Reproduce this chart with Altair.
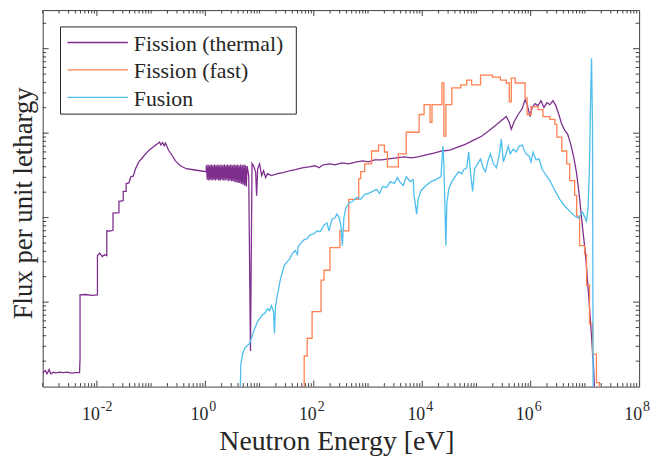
import altair as alt
import pandas as pd

# ---------------- data (log10 of energy [eV], log10 of flux [arb.]) ----------------
thermal_log_e = [
    -3.0, -2.95, -2.92, -2.88, -2.85, -2.8, -2.76, -2.7, -2.62, -2.55, -2.47, -2.40, -2.32,
    -2.311, -2.311, -2.2, -2.1, -1.99,
    -1.99, -1.95, -1.90, -1.86, -1.818,
    -1.818, -1.76, -1.703,
    -1.703, -1.593,
    -1.593, -1.515,
    -1.515, -1.46,
    -1.46, -1.41,
    -1.374, -1.33, -1.288, -1.228, -1.17, -1.105, -1.05, -1.009, -0.917, -0.87, -0.844, -0.82,
    -0.789, -0.76, -0.735, -0.70, -0.68, -0.607, -0.552, -0.46, -0.351, -0.223, 0.015,
    0.02, 0.035, 0.05, 0.065, 0.08, 0.095, 0.11, 0.125, 0.14, 0.155, 0.17, 0.185, 0.20, 0.215,
    0.23, 0.245, 0.26, 0.275, 0.29, 0.305, 0.32, 0.335, 0.35, 0.365, 0.38, 0.395, 0.41, 0.425,
    0.44, 0.455, 0.47, 0.485, 0.50, 0.515, 0.53, 0.545, 0.56, 0.575, 0.59, 0.605, 0.62, 0.635,
    0.65, 0.665, 0.68, 0.695, 0.71, 0.725, 0.74, 0.755, 0.77,
    0.80, 0.832, 0.861, 0.892, 0.928, 0.946, 0.965, 1.001, 1.038, 1.074, 1.111, 1.147, 1.22,
    1.33, 1.44, 1.549, 1.659, 1.787, 1.915, 2.024, 2.097, 2.17, 2.298, 2.39, 2.518, 2.645,
    2.791, 2.901, 3.011, 3.121, 3.249, 3.376, 3.523, 3.669, 3.797, 3.925, 4.071, 4.217, 4.363,
    4.509, 4.655, 4.802, 4.948, 5.094, 5.24, 5.35, 5.459, 5.551, 5.606, 5.642, 5.697, 5.77,
    5.843, 5.898, 5.935, 5.989, 6.026, 6.081, 6.136, 6.19, 6.245, 6.3, 6.355, 6.41, 6.464,
    6.519, 6.574, 6.629, 6.683, 6.738, 6.793, 6.848, 6.902, 6.957, 7.012, 7.067, 7.122, 7.158, 7.195,
]
thermal_log_flux = [
    0.163, 0.19, 0.15, 0.2, 0.15, 0.17, 0.16, 0.17, 0.165, 0.17, 0.16, 0.165, 0.165,
    0.33, 1.085, 1.09, 1.08, 1.085,
    1.55, 1.58, 1.54, 1.56, 1.55,
    1.844, 1.84, 1.85,
    2.054, 2.06,
    2.194, 2.20,
    2.31, 2.31,
    2.404, 2.41,
    2.485, 2.49, 2.579, 2.66, 2.70, 2.754, 2.79, 2.812, 2.859, 2.88, 2.894, 2.86,
    2.89, 2.85, 2.882, 2.83, 2.80, 2.73, 2.672, 2.614, 2.579, 2.567, 2.544,
    2.62, 2.45, 2.63, 2.44, 2.62, 2.45, 2.63, 2.44, 2.62, 2.45, 2.63, 2.44, 2.62, 2.45,
    2.63, 2.44, 2.62, 2.44, 2.63, 2.45, 2.62, 2.44, 2.63, 2.44, 2.62, 2.45, 2.63, 2.43,
    2.62, 2.44, 2.63, 2.43, 2.62, 2.43, 2.63, 2.42, 2.62, 2.42, 2.63, 2.41, 2.62, 2.41,
    2.63, 2.40, 2.62, 2.39, 2.63, 2.38, 2.62, 2.37, 2.61,
    2.50, 0.42, 2.64, 2.61, 2.54, 2.26, 2.58, 2.637, 2.497, 2.555, 2.474, 2.52, 2.497,
    2.52, 2.532, 2.555, 2.567, 2.59, 2.602, 2.614, 2.59, 2.625, 2.637, 2.625, 2.649, 2.637,
    2.66, 2.672, 2.66, 2.684, 2.684, 2.695, 2.707, 2.719, 2.707, 2.719, 2.742, 2.765, 2.789,
    2.80, 2.835, 2.87, 2.917, 2.964, 3.034, 3.092, 3.151, 3.197, 3.127, 3.046, 3.139, 3.221,
    3.291, 3.396, 3.337, 3.197, 3.302, 3.349, 3.326, 3.384, 3.302, 3.361, 3.337, 3.384, 3.326,
    3.221, 3.104, 3.034, 2.987, 2.87, 2.719, 2.52, 2.229, 1.879, 1.564, 1.097, 0.595, 0.245, -0.3,
]

fast_log_e = [
    1.823, 1.823, 1.878, 1.969, 2.134, 2.189, 2.298, 2.481, 2.645, 2.828, 2.865, 2.938, 3.066,
    3.194, 3.303, 3.358, 3.559, 3.705, 3.943, 4.034, 4.144, 4.18, 4.363, 4.399, 4.436, 4.546,
    4.71, 4.82, 4.911, 5.075, 5.295, 5.441, 5.55, 5.605, 5.642, 5.715, 5.897, 5.934, 6.007,
    6.135, 6.226, 6.354, 6.446, 6.482, 6.573, 6.665, 6.72, 6.811, 6.848, 6.902, 6.994, 7.03,
    7.085, 7.14, 7.213, 7.268,
]
fast_log_flux = [
    -0.3, 0.362, 0.572, 0.887, 1.26, 1.377, 1.645, 1.844, 2.217, 2.462, 2.544, 2.637, 2.789,
    2.859, 2.777, 2.602, 2.754, 3.011, 3.221, 3.337, 3.127, 3.337, 3.594, 2.964, 3.337, 3.536,
    3.571, 3.629, 3.571, 3.687, 3.664, 3.629, 3.594, 3.372, 3.652, 3.594, 3.419, 3.221, 3.314,
    3.279, 3.197, 3.162, 3.104, 2.952, 2.789, 2.637, 2.439, 2.264, 2.019, 1.669, 1.564, 1.202,
    0.747, 0.385, 0.047, -0.3,
]

fusion_log_e = [
    0.636, 0.654, 0.691, 0.727, 0.782, 0.818, 0.873, 0.91, 0.965, 1.001, 1.056, 1.092, 1.147,
    1.184, 1.22, 1.257, 1.275, 1.293, 1.33, 1.385, 1.421, 1.458, 1.513, 1.549, 1.604, 1.659,
    1.695, 1.714, 1.768, 1.823, 1.878, 1.933, 2.006, 2.061, 2.116, 2.189, 2.243, 2.28, 2.335,
    2.39, 2.426, 2.463, 2.499, 2.527, 2.554, 2.591, 2.645, 2.719, 2.792, 2.865, 2.938, 3.011,
    3.084, 3.157, 3.212, 3.267, 3.34, 3.413, 3.486, 3.541, 3.596, 3.65, 3.705, 3.778, 3.833,
    3.851, 3.87, 3.897, 3.924, 3.979, 4.07, 4.162, 4.253, 4.345, 4.381, 4.399, 4.436, 4.454,
    4.491, 4.546, 4.619, 4.673, 4.728, 4.765, 4.82, 4.856, 4.893, 4.929, 4.966, 5.021, 5.075,
    5.13, 5.167, 5.222, 5.258, 5.313, 5.368, 5.423, 5.459, 5.496, 5.532, 5.587, 5.623, 5.678,
    5.733, 5.788, 5.843, 5.879, 5.916, 5.971, 6.007, 6.044, 6.099, 6.153, 6.208, 6.263, 6.354,
    6.446, 6.537, 6.629, 6.72, 6.811, 6.884, 6.957, 7.03, 7.058, 7.085, 7.103, 7.122, 7.14, 7.153,
]
fusion_log_flux = [
    -0.3, 0.268, 0.397, 0.455, 0.49, 0.513, 0.618, 0.688, 0.77, 0.805, 0.852, 0.863, 0.922,
    0.898, 0.957, 0.887, 0.63, 0.945, 1.085, 1.272, 1.354, 1.435, 1.482, 1.505, 1.575, 1.61,
    1.564, 1.657, 1.704, 1.739, 1.75, 1.797, 1.809, 1.844, 1.832, 1.914, 1.937, 1.844, 1.984,
    1.995, 2.042, 2.007, 1.914, 1.669, 1.995, 2.112, 2.17, 2.194, 2.24, 2.217, 2.275, 2.287,
    2.31, 2.334, 2.287, 2.369, 2.357, 2.427, 2.404, 2.474, 2.415, 2.38, 2.485, 2.427, 2.45,
    2.252, 2.17, 2.042, 2.217, 2.322, 2.38, 2.427, 2.45, 2.485, 2.847, 2.637, 1.669, 2.17,
    2.345, 2.427, 2.497, 2.544, 2.52, 2.567, 2.59, 2.777, 2.52, 2.31, 2.579, 2.637, 2.695,
    2.579, 2.544, 2.695, 2.754, 2.637, 2.59, 2.754, 2.929, 2.66, 2.73, 2.847, 2.754, 2.812,
    2.777, 2.847, 2.859, 2.8, 2.754, 2.73, 2.66, 2.777, 2.684, 2.695, 2.579, 2.52, 2.439,
    2.322, 2.217, 2.135, 2.077, 2.019, 1.995, 2.065, 1.96, 2.112, 2.637, 3.337, 3.886, 3.104, -0.3,
]

series_names = ["Fission (thermal)", "Fission (fast)", "Fusion"]
series_colors = ["#7E2F8E", "#FF8050", "#4DBEEE"]

x_label_values = [1e-2, 1e0, 1e2, 1e4, 1e6, 1e8]
x_label_exponents = ["-2", "0", "2", "4", "6", "8"]
x_major_ticks = [1e-2, 1e0, 1e2, 1e4, 1e6]
y_major_ticks = [1e1, 1e2, 1e3, 1e4]

# ---------------- layout / style ----------------
W, H = 602, 380
FONT = "Liberation Serif"
TXT = "#262626"
AXC = "#404040"
LW = 1.3
Y_TOP = 10 ** 4.457

xs = alt.Scale(type="log", domain=[1e-3, 1e8])
ys = alt.Scale(type="log", domain=[1, Y_TOP])


def series_frame(le, lf):
    return pd.DataFrame({
        "energy": [10 ** v for v in le],
        "flux": [10 ** v for v in lf],
        "i": list(range(len(le))),
    })


def curve(df, color, interp):
    return alt.Chart(df).mark_line(
        color=color, strokeWidth=LW, clip=True, interpolate=interp
    ).encode(
        x=alt.X("energy:Q", scale=xs, axis=None),
        y=alt.Y("flux:Q", scale=ys, axis=None),
        order="i:Q",
    )


layers = [
    curve(series_frame(thermal_log_e, thermal_log_flux), series_colors[0], "linear"),
    curve(series_frame(fast_log_e, fast_log_flux), series_colors[1], "step-after"),
    curve(series_frame(fusion_log_e, fusion_log_flux), series_colors[2], "linear"),
]

# ticks (inward, on all four sides)
x_minor = [m * 10 ** k for k in range(-3, 8) for m in range(1, 10)
           if not (m == 1 and k % 2 == 0)]
y_minor = [m * 10 ** k for k in range(0, 5) for m in range(2, 10) if m * 10 ** k < Y_TOP]


def xticks(vals, length):
    df = pd.DataFrame({"v": vals})
    b = alt.Chart(df).mark_rule(color=AXC, strokeWidth=1)
    xe = alt.X("v:Q", scale=xs, axis=None)
    return [b.encode(x=xe, y=alt.value(H), y2=alt.value(H - length)),
            b.encode(x=xe, y=alt.value(0), y2=alt.value(length))]


def yticks(vals, length):
    df = pd.DataFrame({"v": vals})
    b = alt.Chart(df).mark_rule(color=AXC, strokeWidth=1)
    ye = alt.Y("v:Q", scale=ys, axis=None)
    return [b.encode(y=ye, x=alt.value(0), x2=alt.value(length)),
            b.encode(y=ye, x=alt.value(W), x2=alt.value(W - length))]


layers += xticks(x_major_ticks, 6) + xticks(x_minor, 3.5)
layers += yticks(y_major_ticks, 6) + yticks(y_minor, 3.5)

# x tick labels "10" with superscript exponent
lab_df = pd.DataFrame({"v": x_label_values, "exp": x_label_exponents, "base": ["10"] * len(x_label_values)})
layers.append(alt.Chart(lab_df).mark_text(
    font=FONT, fontSize=18, align="right", baseline="alphabetic", dx=3, color=TXT
).encode(x=alt.X("v:Q", scale=xs, axis=None), y=alt.value(H + 34), text="base:N"))
layers.append(alt.Chart(lab_df).mark_text(
    font=FONT, fontSize=14, align="left", baseline="alphabetic", dx=4, color=TXT
).encode(x=alt.X("v:Q", scale=xs, axis=None), y=alt.value(H + 25), text="exp:N"))

one = pd.DataFrame({"k": [0]})

# axis titles
layers.append(alt.Chart(one).mark_text(
    font=FONT, fontSize=28, align="center", baseline="alphabetic", color=TXT
).encode(x=alt.value(297), y=alt.value(H + 64), text=alt.value("Neutron Energy [eV]")))
layers.append(alt.Chart(one).mark_text(
    font=FONT, fontSize=27, align="center", baseline="alphabetic", angle=270, color=TXT
).encode(x=alt.value(-11), y=alt.value(195), text=alt.value("Flux per unit lethargy")))

# legend
layers.append(alt.Chart(one).mark_rect(fill="white", stroke=TXT, strokeWidth=1).encode(
    x=alt.value(18), x2=alt.value(256), y=alt.value(17), y2=alt.value(105)))
row_line_y = [32.7, 60.3, 88.0]
row_text_y = [41.3, 69.0, 96.7]
for name, col, ly, ty in zip(series_names, series_colors, row_line_y, row_text_y):
    layers.append(alt.Chart(one).mark_rule(color=col, strokeWidth=LW).encode(
        x=alt.value(25), x2=alt.value(86), y=alt.value(ly)))
    layers.append(alt.Chart(one).mark_text(
        font=FONT, fontSize=22, align="left", baseline="alphabetic", color=TXT
    ).encode(x=alt.value(92), y=alt.value(ty), text=alt.value(name)))

chart = alt.layer(*layers).properties(
    width=W, height=H,
    autosize=alt.AutoSizeParams(type="none"),
    padding={"left": 35, "top": 0, "right": 14, "bottom": 73},
).configure_view(stroke=AXC, strokeWidth=1)

chart.save("out.html", embed_options={"renderer": "svg", "actions": False})
